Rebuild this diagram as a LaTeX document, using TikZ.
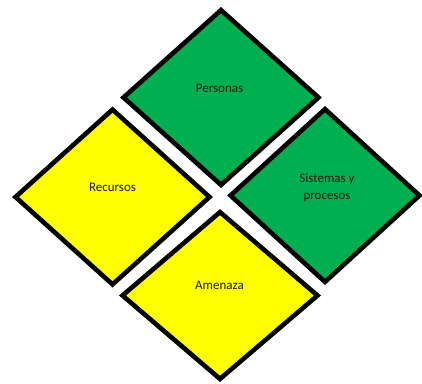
\documentclass[tikz,border=0pt]{standalone}
\usepackage{fontspec}
\setmainfont{Carlito}
\usetikzlibrary{calc}
\definecolor{grn}{HTML}{00B050}
\definecolor{yel}{HTML}{FFFF00}
\begin{document}
\begin{tikzpicture}[x=1pt,y=-1pt,
  dia/.style={draw=black, line width=4.6pt, line join=miter},
  lbl/.style={font=\fontsize{13}{17}\selectfont, text=black!90, align=center, inner sep=0pt}]
\useasboundingbox (0,0) rectangle (422,383);
% centres
\coordinate (pc) at (221,97.5);
\coordinate (rc) at (112.5,197);
\coordinate (sc) at (325,195.5);
\coordinate (ac) at (220,295.5);
% diamonds
\filldraw[dia, fill=grn] (pc) ++(0,-87.4) -- ++(97.5,87.4) -- ++(-97.5,87.4) -- ++(-97.5,-87.4) -- cycle;
\filldraw[dia, fill=yel] (rc) ++(0,-87.4) -- ++(97,87.4) -- ++(-97,87.4) -- ++(-97,-87.4) -- cycle;
\filldraw[dia, fill=grn] (sc) ++(0,-86.4) -- ++(94.5,86.4) -- ++(-94.5,86.4) -- ++(-94.5,-86.4) -- cycle;
\filldraw[dia, fill=yel] (ac) ++(0,-83.4) -- ++(97.5,83.4) -- ++(-97.5,83.4) -- ++(-97.5,-83.4) -- cycle;
% labels
\node[lbl] (pt) at (219.5,88) {Personas};
\node[lbl] (rt) at (112.5,187) {Recursos};
\node[lbl] (st) at (327,188) {Sistemas y\\procesos};
\node[lbl] (at) at (219.5,285) {Amenaza};
\end{tikzpicture}
\end{document}
